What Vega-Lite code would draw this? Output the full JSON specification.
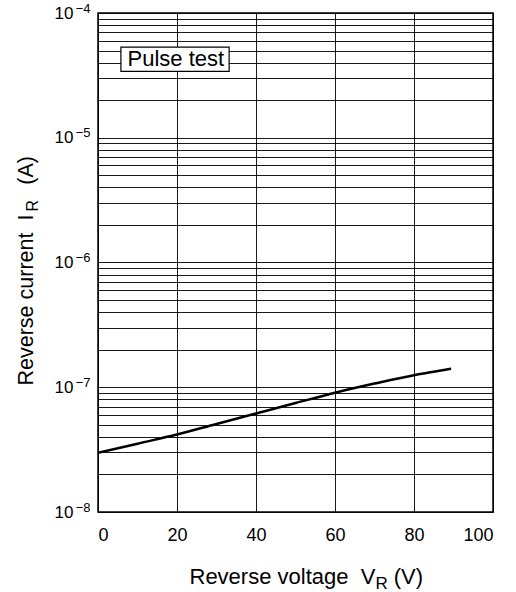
{
  "$schema": "https://vega.github.io/schema/vega-lite/v6.json",
  "autosize": "none",
  "width": 395,
  "height": 499,
  "padding": {"left": 98, "top": 13, "right": 23, "bottom": 80},
  "background": "white",
  "config": {
    "font": "Liberation Sans",
    "view": {"stroke": "black", "strokeWidth": 1.5},
    "axis": {
      "labelFont": "Liberation Sans",
      "titleFont": "Liberation Sans",
      "labelColor": "black",
      "titleColor": "black",
      "titleFontWeight": "normal",
      "gridColor": "black",
      "gridWidth": 1,
      "gridOpacity": 0.9,
      "ticks": false,
      "domain": false
    }
  },
  "datasets": {
    "curve": [
      {"vr": 0, "ir": 2.98e-8},
      {"vr": 10, "ir": 3.53e-8},
      {"vr": 20, "ir": 4.18e-8},
      {"vr": 30, "ir": 5.08e-8},
      {"vr": 40, "ir": 6.16e-8},
      {"vr": 50, "ir": 7.47e-8},
      {"vr": 60, "ir": 9.04e-8},
      {"vr": 70, "ir": 1.07e-7},
      {"vr": 80, "ir": 1.25e-7},
      {"vr": 85, "ir": 1.33e-7},
      {"vr": 89.4, "ir": 1.41e-7}
    ],
    "box": [
      {"x1": 5.8, "x2": 33.2, "y1": 5.33e-5, "y2": 3.4e-5, "xc": 19.7, "yc": 4.26e-5, "label": "Pulse test"}
    ]
  },
  "resolve": {"axis": {"x": "independent", "y": "independent"}},
  "layer": [
    {
      "data": {"name": "curve"},
      "mark": {"type": "line", "color": "black", "strokeWidth": 2.5, "interpolate": "monotone", "clip": true},
      "encoding": {
        "x": {
          "field": "vr", "type": "quantitative",
          "scale": {"domain": [0, 100], "nice": false},
          "axis": {
            "orient": "bottom",
            "values": [0, 20, 40, 60, 80, 100],
            "grid": true,
            "labelFontSize": 18,
            "labelPadding": 14,
            "title": "Reverse voltage\u00a0\u00a0V\u00a0\u00a0\u00a0(V)",
            "titleFontSize": 22,
            "titleAlign": "left",
            "titleX": 91,
            "titleY": 71,
            "titleBaseline": "alphabetic"
          }
        },
        "y": {
          "field": "ir", "type": "quantitative",
          "scale": {"type": "log", "domain": [1e-8, 1e-4], "nice": false},
          "axis": {
            "orient": "left",
            "values": [1e-8, 2e-8, 3e-8, 4e-8, 5e-8, 6e-8, 7e-8, 8e-8, 9e-8,
                       1e-7, 2e-7, 3e-7, 4e-7, 5e-7, 6e-7, 7e-7, 8e-7, 9e-7,
                       1e-6, 2e-6, 3e-6, 4e-6, 5e-6, 6e-6, 7e-6, 8e-6, 9e-6,
                       1e-5, 2e-5, 3e-5, 4e-5, 5e-5, 6e-5, 7e-5, 8e-5, 9e-5, 1e-4],
            "labelExpr": "abs(log(datum.value)/LN10 - round(log(datum.value)/LN10)) < 0.001 ? '10' : ''",
            "grid": true,
            "labelFontSize": 17,
            "labelPadding": 25,
            "labelBaseline": "middle",
            "title": "Reverse current\u00a0\u00a0I\u00a0\u00a0\u00a0\u00a0\u00a0(A)",
            "titleFontSize": 21.5,
            "titleAlign": "left",
            "titleX": -66,
            "titleY": 372,
            "titleBaseline": "alphabetic"
          }
        }
      }
    },
    {
      "data": {"name": "box"},
      "mark": {"type": "rect", "fill": "white", "stroke": "black", "strokeWidth": 1.2},
      "encoding": {
        "x": {
          "field": "x1", "type": "quantitative",
          "axis": {
            "orient": "bottom",
            "labels": false,
            "grid": false,
            "title": "R",
            "titleFontSize": 17,
            "titleAlign": "left",
            "titleX": 277,
            "titleY": 76,
            "titleBaseline": "alphabetic"
          }
        },
        "x2": {"field": "x2"},
        "y": {
          "field": "y1", "type": "quantitative",
          "axis": {
            "orient": "left",
            "values": [1e-8, 1e-7, 1e-6, 1e-5, 1e-4],
            "labelExpr": "['−8','−7','−6','−5','−4'][round(log(datum.value)/LN10) + 8]",
            "grid": false,
            "labelFontSize": 13,
            "labelPadding": 8,
            "labelOffset": -5,
            "labelBaseline": "middle",
            "title": "R",
            "titleFontSize": 16,
            "titleAlign": "left",
            "titleX": -61,
            "titleY": 198,
            "titleBaseline": "alphabetic"
          }
        },
        "y2": {"field": "y2"}
      }
    },
    {
      "data": {"name": "box"},
      "mark": {"type": "text", "fontSize": 22, "color": "black", "font": "Liberation Sans", "baseline": "middle", "align": "center"},
      "encoding": {
        "x": {"field": "xc", "type": "quantitative", "axis": null},
        "y": {"field": "yc", "type": "quantitative", "axis": null},
        "text": {"field": "label"}
      }
    }
  ]
}
